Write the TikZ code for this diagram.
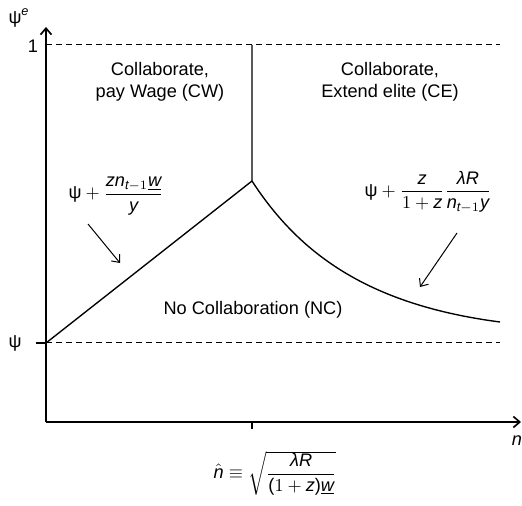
\documentclass[tikz,border=0pt]{standalone}
\usepackage{amsmath}
\usepackage{fontspec}
\setmainfont{Liberation Sans}
\usetikzlibrary{arrows.meta}
\newcommand{\tpsi}{\textup{ψ}}
\newcommand{\tlam}{\textit{λ}}
\newcommand{\vi}[1]{\mathit{#1}}
\newcommand{\wunder}{\underline{\vi{w}}}

\begin{document}
\begin{tikzpicture}[x=0.55pt, y=-0.55pt, font=\fontsize{10}{12.1}\selectfont,
  >={Straight Barb[length=3.5pt, width=6pt]},
  axis/.style={->, line width=0.9pt},
  guide/.style={line width=0.55pt, dash pattern=on 3.3pt off 2.2pt},
  bound/.style={line width=0.75pt},
  pointer/.style={->, line width=0.55pt}]
    \useasboundingbox (0,0) rectangle (522,506);
    % Axes
    \coordinate (O) at (46,422);
    \coordinate (ytop) at (46,27);
    \coordinate (xend) at (521,422);
    \draw[axis] (O) -- (ytop);
    \draw[axis] (O) -- (xend);
    \node (ylab) at (19,18) {$\tpsi^{\vi{e}}$};
    \node (xlab) at (517,441) {$\vi{n}$};

    % Levels 1 and psi
    \coordinate (one) at (46,45);
    \coordinate (oneend) at (500,45);
    \coordinate (psi) at (46,343);
    \coordinate (psitick) at (36,343);
    \coordinate (psiend) at (500,343);
    \draw[guide] (one) -- (oneend);
    \draw[guide] (psi) -- (psiend);
    \draw[bound] (psitick) -- (psi);
    \node (onelab) at (33,46) {1};
    \node (psilab) at (15,343) {\tpsi};

    % Region boundaries
    \coordinate (peak) at (252,181);
    \coordinate (top) at (252,45);
    \coordinate (tail) at (500,322);
    \coordinate (nhat) at (252,422);
    \coordinate (nhattick) at (252,429);
    \draw[bound] (psi) -- (peak) -- (top);
    \draw[bound] (peak) .. controls (300,255) and (370,305) .. (tail);
    \draw[bound] (nhat) -- (nhattick);

    % Regions
    \node[align=center] (cw) at (160,82) {Collaborate,\\pay Wage (CW)};
    \node[align=center] (ce) at (390,82) {Collaborate,\\Extend elite (CE)};
    \node (nc) at (253,310) {No Collaboration (NC)};

    % Formulas
    \node (lowf) at (116,196) {$\tpsi + \dfrac{\vi{zn}_{\vi{t}-1}\wunder}{\vi{y}}$};
    \node (highf) at (428,192) {$\tpsi + \dfrac{\vi{z}}{1 + \vi{z}}\dfrac{\tlam\vi{R}}{\vi{n}_{\vi{t}-1}\vi{y}}$};
    \node (nhatf) at (275,473) {$\hat{\vi{n}} \equiv \sqrt{\dfrac{\tlam\vi{R}}{\text{(}1 + \vi{z}\text{)}\wunder}}$};
    \coordinate (lowa) at (88,224);
    \coordinate (lowb) at (120,263);
    \coordinate (higha) at (457,233);
    \coordinate (highb) at (420,287);
    \draw[pointer] (lowa) -- (lowb);
    \draw[pointer] (higha) -- (highb);
\end{tikzpicture}
\end{document}
